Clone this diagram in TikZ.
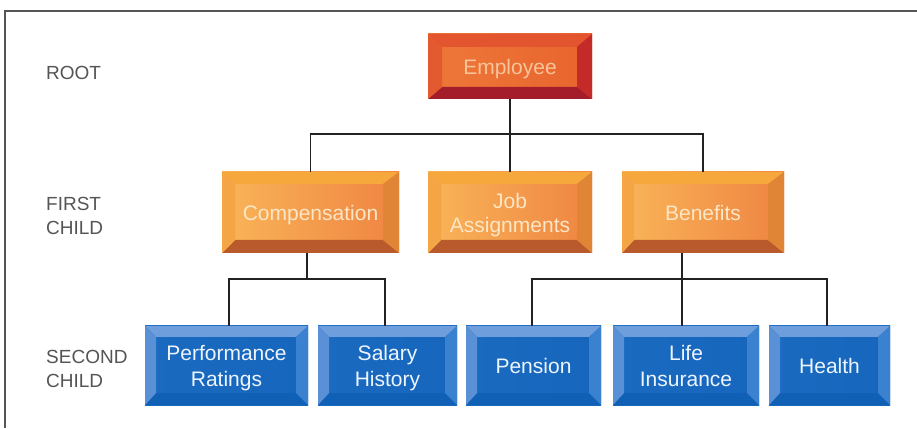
\documentclass[tikz,border=0pt]{standalone}
\usepackage{fontspec}
\setmainfont{Liberation Sans}
\definecolor{empT}{HTML}{E2552E}
\definecolor{empL}{HTML}{E45A30}
\definecolor{empR}{HTML}{C42A28}
\definecolor{empB}{HTML}{A31E2A}
\definecolor{empF1}{HTML}{EE7838}
\definecolor{empF2}{HTML}{E8642E}
\definecolor{empTx}{HTML}{F8C49A}
\definecolor{orT}{HTML}{F7A83C}
\definecolor{orL}{HTML}{F4A646}
\definecolor{orR}{HTML}{E08536}
\definecolor{orB}{HTML}{B85A2C}
\definecolor{orF1}{HTML}{F9B558}
\definecolor{orF2}{HTML}{EF8442}
\definecolor{orTx}{HTML}{FCE6C6}
\definecolor{blT}{HTML}{6E9EDC}
\definecolor{blL}{HTML}{5A90D6}
\definecolor{blR}{HTML}{3A82D0}
\definecolor{blB}{HTML}{1060B6}
\definecolor{blF1}{HTML}{1A6AC0}
\definecolor{blF2}{HTML}{1566BC}
\definecolor{blTx}{HTML}{EEF5FF}
\definecolor{lbl}{HTML}{555555}
\definecolor{frame}{HTML}{555555}
\definecolor{conn}{HTML}{222222}
\newcommand\capline[1]{\raisebox{-1pt}[15pt][0pt]{#1}}
\newcommand\bevelbox[6]{%
 \fill[#2T] (#1.north west) -- (#1.north east) -- ([shift={(-#4pt,-#5pt)}]#1.north east) -- ([shift={(#3pt,-#5pt)}]#1.north west) -- cycle;
 \fill[#2B] (#1.south west) -- (#1.south east) -- ([shift={(-#4pt,#6pt)}]#1.south east) -- ([shift={(#3pt,#6pt)}]#1.south west) -- cycle;
 \fill[#2L] (#1.north west) -- ([shift={(#3pt,-#5pt)}]#1.north west) -- ([shift={(#3pt,#6pt)}]#1.south west) -- (#1.south west) -- cycle;
 \fill[#2R] (#1.north east) -- ([shift={(-#4pt,-#5pt)}]#1.north east) -- ([shift={(-#4pt,#6pt)}]#1.south east) -- (#1.south east) -- cycle;
}
\tikzset{
 boxbase/.style={inner sep=0pt, outer sep=0pt, align=center, font=\fontsize{21}{26}\selectfont},
 empbox/.style={boxbase, left color=empF1, right color=empF2, text=empTx, minimum width=164pt, minimum height=65pt},
 orbox/.style={boxbase, left color=orF1, right color=orF2, text=orTx, minimum height=81pt, font=\fontsize{21}{24}\selectfont},
 blbox/.style={boxbase, left color=blF1, right color=blF2, text=blTx, minimum height=79pt},
 lvl/.style={anchor=west, align=left, text=lbl, inner sep=0pt, font=\fontsize{19}{24}\selectfont},
 link/.style={draw=conn, line width=1.8pt},
}
\begin{document}
\begin{tikzpicture}[x=1pt,y=1pt]
\useasboundingbox (0,0) rectangle (917,428);
\fill[white] (0,0) rectangle (917,428);
\draw[frame, line width=1.6pt] (5,0) -- (5,417) -- (917,417);

% labels
\node[lvl] (lroot) at (46,355) {ROOT};
\node[lvl] (lfirst) at (46,212) {FIRST\\CHILD};
\node[lvl] (lsecond) at (46,59) {SECOND\\CHILD};

% junctions
\coordinate (j1) at (510,294);
\coordinate (j2) at (307,149);
\coordinate (j3) at (682,149);

% boxes
\node[empbox] (emp) at (510,361.5) {\capline{Employee}};
\bevelbox{emp}{emp}{14}{15}{13}{12}
\node[orbox, minimum width=177pt] (comp) at (310.5,215.5) {\capline{Compensation}};
\bevelbox{comp}{or}{13}{16}{12}{13}
\node[orbox, minimum width=164pt] (job) at (510,215.5) {\capline{Job}\\\capline{Assignments}};
\bevelbox{job}{or}{13}{15}{12}{13}
\node[orbox, minimum width=162pt] (ben) at (703,215.5) {\capline{Benefits}};
\bevelbox{ben}{or}{12}{16}{12}{13}

\node[blbox, minimum width=163pt] (perf) at (226.5,62.5) {\capline{Performance}\\\capline{Ratings}};
\bevelbox{perf}{bl}{11}{12}{11}{12}
\node[blbox, minimum width=139pt] (sal) at (387.5,62.5) {\capline{Salary}\\\capline{History}};
\bevelbox{sal}{bl}{11}{12}{11}{12}
\node[blbox, minimum width=135pt] (pen) at (533.5,62.5) {\capline{Pension}};
\bevelbox{pen}{bl}{11}{12}{11}{12}
\node[blbox, minimum width=146pt] (life) at (686,62.5) {\capline{Life}\\\capline{Insurance}};
\bevelbox{life}{bl}{11}{12}{11}{12}
\node[blbox, minimum width=121pt] (health) at (829.5,62.5) {\capline{Health}};
\bevelbox{health}{bl}{11}{12}{11}{12}

% connectors
\draw[link] (emp.south) -- (j1);
\draw[link] (comp.north) |- (j1) -| (ben.north);
\draw[link] (j1) -- (job.north);
\draw[link] (comp.south -| j2) -- (j2);
\draw[link] ([xshift=2.5pt]perf.north) |- (j2) -| ([xshift=-2.5pt]sal.north);
\draw[link] (ben.south -| j3) -- (j3);
\draw[link] ([xshift=-1.5pt]pen.north) |- (j3) -| ([xshift=-2.5pt]health.north);
\draw[link] (j3) -- (j3 |- life.north);
\end{tikzpicture}
\end{document}
